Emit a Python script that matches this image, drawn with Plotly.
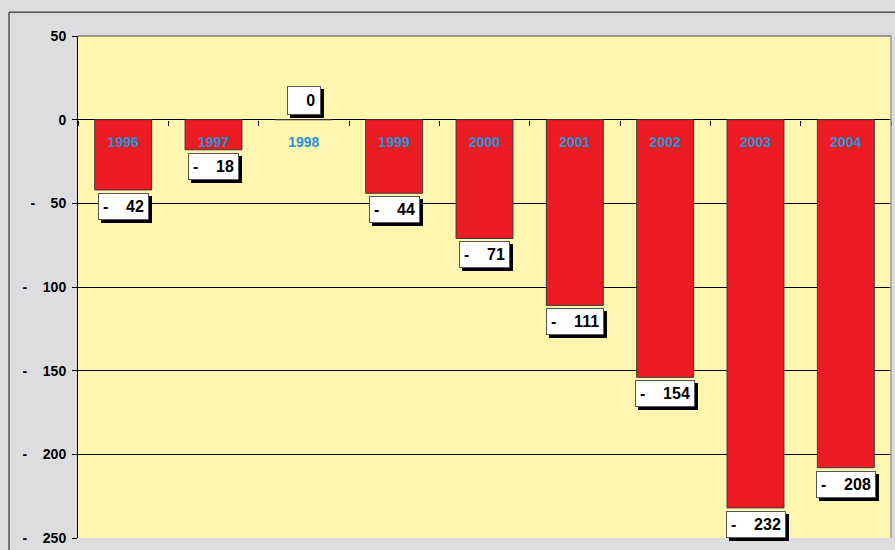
import plotly.graph_objects as go

years = ["1996", "1997", "1998", "1999", "2000", "2001", "2002", "2003", "2004"]
values = [-42, -18, 0, -44, -71, -111, -154, -232, -208]
y_tickvals = [50, 0, -50, -100, -150, -200, -250]
y_ticktext = ["50", "0", "-    50", "-    100", "-    150", "-    200", "-    250"]
y_min, y_max = -250, 50

NB = "\u00a0"
def fmt(v):
    if v == 0:
        return "0"
    return "-" + NB * 4 + str(abs(v))

FONT = "Arial, Liberation Sans, sans-serif"
W, H = 895, 550
ML, MR, MT, MB = 78, 4, 36, 9

fig = go.Figure()
fig.add_trace(go.Bar(
    x=years, y=values,
    marker=dict(color="#ED1C24", line=dict(color="#3a3a3a", width=1)),
    width=0.63,
))

ann = []
for i, v in enumerate(values):
    txt = "<b>" + fmt(v).replace(" ", NB) + "</b>"
    if v < 0:
        ya, ys = "top", -3
    else:
        ya, ys = "bottom", 5
    pad = 4 if v != 0 else 5
    if v == 0:
        txt = "<b>" + NB * 3 + "0</b>"
    common = dict(x=i, y=v, xref="x", yref="y", text=txt, showarrow=False,
                  yanchor=ya, font=dict(family=FONT, size=16, color="black"),
                  borderpad=pad, borderwidth=1)
    ann.append(dict(common, xshift=3, yshift=ys - 3, bgcolor="black",
                    bordercolor="black"))
    ann.append(dict(common, yshift=ys, bgcolor="white", bordercolor="#555555"))

ppw = W - ML - MR
pph = H - MT - MB
px_x = lambda px: (px - ML) / ppw
px_y = lambda py: (H - MB - py) / pph

shapes = [
    dict(type="line", xref="paper", yref="paper", x0=0, x1=1, y0=1, y1=1,
         line=dict(color="#7a7a7a", width=1.5)),
    dict(type="line", xref="paper", yref="paper", x0=1, x1=1, y0=0, y1=1,
         line=dict(color="#9a9a9a", width=1.5)),
    dict(type="line", xref="paper", yref="paper", x0=px_x(9), x1=px_x(9), y0=px_y(12), y1=px_y(560),
         line=dict(color="#505050", width=1.5)),
    dict(type="line", xref="paper", yref="paper", x0=px_x(9), x1=px_x(905), y0=px_y(12), y1=px_y(12),
         line=dict(color="#505050", width=1.5)),
]

fig.update_layout(
    width=W, height=H,
    margin=dict(l=ML, r=MR, t=MT, b=MB),
    paper_bgcolor="#DDDDDF",
    plot_bgcolor="#FFF7B0",
    showlegend=False,
    annotations=ann,
    shapes=shapes,
    xaxis=dict(
        type="category",
        range=[-0.5, len(years) - 0.5],
        anchor="free",
        position=(0 - y_min) / (y_max - y_min),
        showline=False,
        showgrid=False,
        ticks="outside", tickson="boundaries", ticklen=5, tickcolor="black",
        tickfont=dict(family=FONT, size=14, color="#1F93D8", weight="bold"),
        ticklabelstandoff=12,
        tickangle=0,
    ),
    yaxis=dict(
        range=[y_min, y_max],
        tickvals=y_tickvals,
        ticktext=[t.replace(" ", NB) for t in y_ticktext],
        ticks="outside", ticklen=5, tickcolor="black",
        showline=True, linecolor="black", linewidth=1,
        showgrid=True, gridcolor="black", gridwidth=1,
        zeroline=True, zerolinecolor="black", zerolinewidth=1,
        tickfont=dict(family=FONT, size=14, color="black", weight="bold"),
        ticklabelstandoff=3,
    ),
)

fig.write_html("out.html")
